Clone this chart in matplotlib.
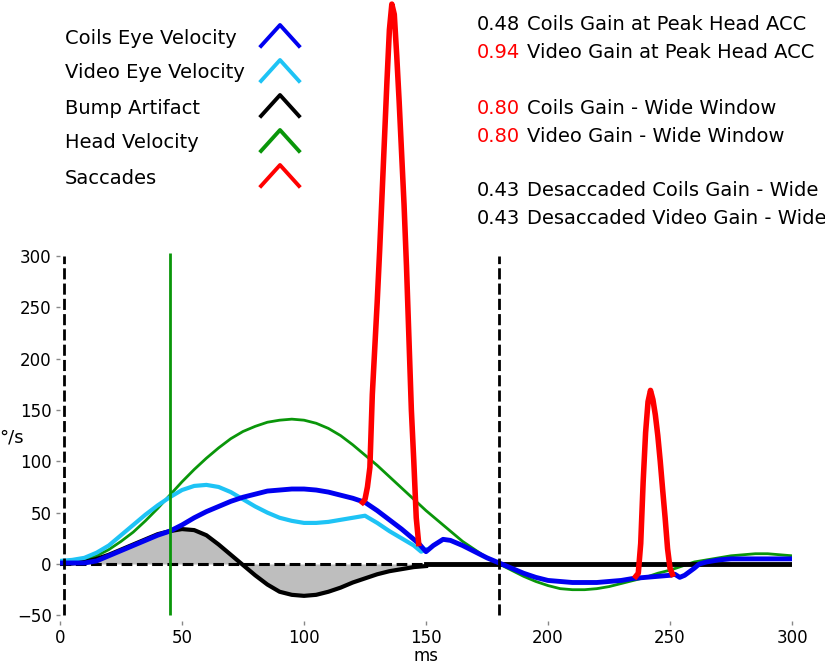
import matplotlib
matplotlib.use("Agg")
import matplotlib.pyplot as plt
from matplotlib.lines import Line2D

plt.rcParams['font.family'] = ['DejaVu Sans']

# head velocity (deg/s) every 5 ms
head_t = [0, 5, 10, 15, 20, 25, 30, 35, 40, 45, 50, 55, 60, 65, 70, 75, 80, 85, 90, 95,
          100, 105, 110, 115, 120, 125, 130, 135, 140, 145, 150, 155, 160, 165, 170, 175,
          180, 185, 190, 195, 200, 205, 210, 215, 220, 225, 230, 235, 240, 245, 250, 255,
          260, 265, 270, 275, 280, 285, 290, 295, 300]
head_v = [1, 2, 4, 8, 14, 22, 31, 42, 54, 67, 80, 92, 103, 113, 122, 129, 134, 138, 140, 141,
          140, 137, 132, 125, 116, 106, 96, 85, 74, 63, 52, 42, 32, 22, 14, 6,
          0, -6, -12, -17, -21, -24, -25, -25, -24, -22, -19, -16, -13, -9, -6, -2,
          2, 4, 6, 8, 9, 10, 10, 9, 8]

# video eye velocity
video_t = [0, 5, 10, 15, 20, 25, 30, 35, 40, 45, 50, 55, 60, 65, 70, 75, 80, 85, 90, 95,
           100, 105, 110, 115, 120, 125, 130, 135, 140, 145, 148, 150]
video_v = [3, 4, 6, 11, 18, 28, 38, 48, 57, 65, 72, 76, 77, 75, 70, 63, 56, 50, 45, 42,
           40, 40, 41, 43, 45, 47, 40, 32, 25, 18, 12, 14]

# coils eye velocity
coils_t = [0, 5, 10, 15, 20, 25, 30, 35, 40, 45, 50, 55, 60, 65, 70, 75, 80, 85, 90, 95,
           100, 105, 110, 115, 120, 125, 130, 135, 140, 145, 147, 150, 153, 157, 160, 165,
           170, 175, 180, 185, 190, 195, 200, 205, 210, 215, 220, 225, 230, 235, 240, 245,
           250, 252, 254, 256, 260, 262, 265, 270, 275, 280, 290, 300]
coils_v = [1, 1, 1, 3, 8, 13, 18, 23, 28, 32, 38, 45, 51, 56, 61, 65, 68, 71, 72, 73,
           73, 72, 70, 67, 64, 60, 52, 43, 34, 24, 20, 12, 18, 24, 23, 18,
           12, 6, 1, -4, -9, -13, -16, -17, -18, -18, -18, -17, -16, -14, -13, -12,
           -11, -10, -13, -11, -4, 0, 2, 4, 5, 5, 5, 5]

# bump artifact
bump_t = [0, 5, 10, 15, 20, 25, 30, 35, 40, 45, 50, 55, 60, 65, 70, 75, 80, 85, 90, 95,
          100, 105, 110, 115, 120, 125, 130, 135, 140, 145, 150]
bump_v = [0, 0.5, 2, 5, 9, 14, 19, 24, 29, 32, 34, 33, 28, 19, 9, -1, -11, -20, -27, -30,
          -31, -30, -27, -23, -18, -14, -10, -7, -5, -3, -2]
bump_tail_t = [150, 300]
bump_tail_v = [0, 0]

# saccades
sacc1_t = [124, 125, 126, 127, 128, 129, 130, 131, 132, 133, 134, 135, 136, 137, 138, 139,
           140, 141, 142, 143, 144, 145, 146, 147]
sacc1_v = [60, 63, 75, 94, 165, 210, 255, 305, 360, 415, 470, 520, 545, 535, 495, 450,
           400, 350, 290, 220, 150, 100, 45, 20]
sacc2_t = [236, 237, 238, 239, 240, 241, 242, 243, 244, 245, 246, 247, 248, 249, 250, 251]
sacc2_v = [-12, -9, 20, 80, 128, 158, 169, 160, 145, 125, 100, 72, 45, 15, -4, -10]

peak_acc_t = 45
window_t = [1.5, 180]

legend_labels = ["Coils Eye Velocity", "Video Eye Velocity", "Bump Artifact",
                 "Head Velocity", "Saccades"]
c_blue, c_cyan, c_black, c_green, c_red = "#0000f0", "#1ec3f5", "black", "#0a960a", "#ff0000"
legend_colors = [c_blue, c_cyan, c_black, c_green, c_red]

gain_values = ["0.48", "0.94", "0.80", "0.80", "0.43", "0.43"]
gain_colors = ["black", "red", "red", "red", "black", "black"]
gain_labels = ["Coils Gain at Peak Head ACC", "Video Gain at Peak Head ACC",
               "Coils Gain - Wide Window", "Video Gain - Wide Window",
               "Desaccaded Coils Gain - Wide", "Desaccaded Video Gain - Wide"]
gain_rows = [25, 53, 108, 136, 190, 218]

W, H = 825, 664
fig = plt.figure(figsize=(W / 100, H / 100), dpi=100)
ax = fig.add_axes([60 / W, 0.0655, 732 / W, 0.9345])
ax.set_xlim(0, 300)
ax.set_ylim(-55, 549)
for s in ax.spines.values():
    s.set_visible(False)

ax.fill_between(bump_t, bump_v, 0, color="#bebebe", lw=0)
ax.plot([0, 300], [0, 0], color="black", lw=2.2, dashes=(3.5, 1.5))
ax.plot(head_t, head_v, color=c_green, lw=2)
ax.plot(bump_t, bump_v, color=c_black, lw=3)
ax.plot(bump_tail_t, bump_tail_v, color=c_black, lw=3.5)
ax.plot(video_t, video_v, color=c_cyan, lw=3)
ax.plot(coils_t, coils_v, color=c_blue, lw=3.5)
ax.plot(sacc1_t, sacc1_v, color=c_red, lw=4, clip_on=False)
ax.plot(sacc2_t, sacc2_v, color=c_red, lw=4)
ax.vlines(peak_acc_t, -50, 303, color=c_green, lw=2)
ax.vlines(window_t, -50, 300, color="black", lw=2, linestyles=(0, (4, 1.5)))

ax.set_xticks([0, 50, 100, 150, 200, 250, 300])
ax.set_yticks([-50, 0, 50, 100, 150, 200, 250, 300])
ax.tick_params(length=3, width=1, color="#888888", labelsize=12, pad=3)
ax.set_xlabel("ms", fontsize=12, va="center")
ax.xaxis.set_label_coords(0.5, -0.057)
ax.set_ylabel("°/s", fontsize=13, rotation=0, va="center", ha="center")
ax.yaxis.set_label_coords(-0.066, 0.295)

# legend drawn by hand: labels left aligned, chevrons in one column
for i, (lab, col) in enumerate(zip(legend_labels, legend_colors)):
    yc = 38 + 35 * i
    fig.text(65 / W, 1 - yc / H, lab, fontsize=14, va="center", ha="left")
    fig.add_artist(Line2D([261 / W, 280 / W, 299 / W],
                          [1 - (yc + 8) / H, 1 - (yc - 13) / H, 1 - (yc + 8) / H],
                          color=col, lw=2.8, transform=fig.transFigure))

for val, vc, lab, yc in zip(gain_values, gain_colors, gain_labels, gain_rows):
    fig.text(477 / W, 1 - yc / H, val, color=vc, fontsize=14, va="center", ha="left")
    fig.text(527 / W, 1 - yc / H, lab, fontsize=14, va="center", ha="left")

fig.savefig("out.png", dpi=100)
